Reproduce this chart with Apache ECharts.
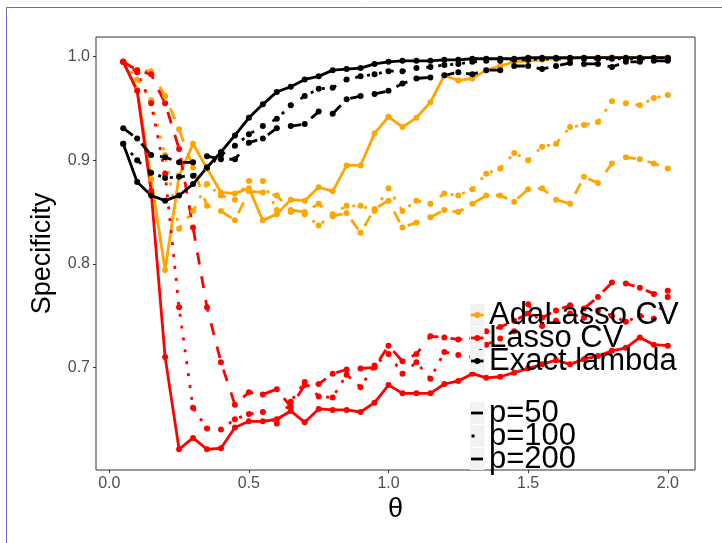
<!DOCTYPE html>
<html>
<head>
<meta charset="utf-8">
<script src="https://cdn.jsdelivr.net/npm/echarts@6/dist/echarts.min.js"></script>
<style>
  html, body { margin: 0; padding: 0; background: #ffffff; }
  #chart { width: 722px; height: 543px; }
</style>
</head>
<body>
<div id="chart"></div>
<script>
// theta grid
const theta = [0.05,0.10,0.15,0.20,0.25,0.30,0.35,0.40,0.45,0.50,
               0.55,0.60,0.65,0.70,0.75,0.80,0.85,0.90,0.95,1.00,
               1.05,1.10,1.15,1.20,1.25,1.30,1.35,1.40,1.45,1.50,
               1.55,1.60,1.65,1.70,1.75,1.80,1.85,1.90,1.95,2.00];

// AdaLasso CV specificity
const adaP50  = [0.995,0.968,0.882,0.794,0.885,0.916,0.892,0.869,0.868,0.873,
                 0.842,0.848,0.862,0.861,0.874,0.870,0.895,0.895,0.926,0.942,
                 0.932,0.941,0.956,0.982,0.977,0.979,0.987,0.991,0.995,0.996,
                 0.997,0.998,0.998,0.999,0.999,0.999,0.999,0.999,0.999,0.999];
const adaP100 = [0.995,0.978,0.958,0.905,0.834,0.851,0.877,0.866,0.862,0.880,
                 0.880,0.852,0.850,0.848,0.837,0.848,0.856,0.856,0.851,0.873,
                 0.851,0.861,0.858,0.868,0.866,0.872,0.887,0.892,0.907,0.900,
                 0.913,0.916,0.932,0.934,0.937,0.957,0.955,0.953,0.960,0.963];
const adaP200 = [0.995,0.987,0.986,0.962,0.930,0.893,0.856,0.851,0.842,0.870,
                 0.869,0.866,0.852,0.850,0.858,0.846,0.849,0.830,0.853,0.861,
                 0.835,0.840,0.845,0.852,0.850,0.858,0.866,0.866,0.860,0.872,
                 0.873,0.862,0.858,0.884,0.878,0.897,0.903,0.901,0.897,0.892];

// Lasso CV specificity
const lassoP50  = [0.995,0.967,0.870,0.710,0.621,0.632,0.621,0.622,0.642,0.648,
                   0.648,0.650,0.658,0.647,0.660,0.659,0.659,0.657,0.666,0.683,
                   0.675,0.675,0.675,0.684,0.687,0.694,0.690,0.691,0.695,0.699,
                   0.703,0.707,0.703,0.708,0.711,0.716,0.719,0.729,0.722,0.721];
const lassoP100 = [0.995,0.985,0.955,0.887,0.758,0.661,0.641,0.640,0.650,0.655,
                   0.657,0.646,0.667,0.686,0.672,0.671,0.693,0.681,0.702,0.713,
                   0.694,0.705,0.689,0.715,0.712,0.710,0.722,0.728,0.735,0.761,
                   0.740,0.745,0.752,0.748,0.755,0.750,0.744,0.750,0.747,0.768];
const lassoP200 = [0.995,0.987,0.983,0.955,0.911,0.835,0.758,0.705,0.664,0.676,
                   0.674,0.679,0.662,0.683,0.684,0.694,0.698,0.699,0.700,0.721,
                   0.706,0.713,0.730,0.729,0.727,0.728,0.735,0.739,0.745,0.752,
                   0.748,0.755,0.760,0.757,0.768,0.782,0.781,0.777,0.771,0.774];

// Exact lambda specificity
const exactP50  = [0.916,0.879,0.866,0.861,0.866,0.877,0.893,0.908,0.924,0.941,
                   0.954,0.966,0.971,0.978,0.981,0.987,0.988,0.989,0.993,0.995,
                   0.996,0.996,0.996,0.997,0.997,0.998,0.998,0.998,0.998,0.999,
                   0.999,0.999,0.999,0.999,0.999,0.999,0.999,0.999,0.999,0.999];
const exactP100 = [0.916,0.900,0.888,0.883,0.884,0.885,0.893,0.905,0.914,0.925,
                   0.933,0.940,0.953,0.962,0.969,0.970,0.978,0.981,0.983,0.986,
                   0.986,0.989,0.990,0.992,0.993,0.995,0.996,0.996,0.997,0.997,
                   0.998,0.998,0.998,0.998,0.998,0.998,0.998,0.998,0.998,0.998];
const exactP200 = [0.931,0.921,0.905,0.903,0.898,0.898,0.904,0.901,0.901,0.917,
                   0.921,0.931,0.933,0.935,0.947,0.945,0.959,0.962,0.964,0.967,
                   0.974,0.979,0.980,0.982,0.985,0.983,0.987,0.987,0.991,0.991,
                   0.988,0.991,0.994,0.993,0.993,0.990,0.995,0.995,0.996,0.996];

// tick labels
const xTickLabels = [0, 0.5, 1.0, 1.5, 2.0];
const yTickLabels = [0.7, 0.8, 0.9, 1.0];

// legend entries
const methodLabels = ['AdaLasso CV', 'Lasso CV', 'Exact lambda'];
const pLabels = ['p=50', 'p=100', 'p=200'];

const FONT = '"Liberation Sans", Arial, Helvetica, sans-serif';
const methodColors = ['#FFA500', '#FF0000', '#000000'];
const LW = 2.8;
const pDash = ['solid', [3, 9], [12, 12]];

function lineSeries(name, values, color, dash) {
  return {
    type: 'line',
    name: name,
    data: theta.map((t, i) => [t, values[i]]),
    symbol: 'circle',
    symbolSize: 6,
    showAllSymbol: true,
    lineStyle: { color: color, width: LW, type: dash, cap: 'butt', join: 'round' },
    itemStyle: { color: color, borderWidth: 0 },
    emphasis: { disabled: true },
    silent: true,
    animation: false
  };
}

const groups = [
  [adaP50, adaP100, adaP200],
  [lassoP50, lassoP100, lassoP200],
  [exactP50, exactP100, exactP200]
];
const series = [];
groups.forEach((g, m) => {
  g.forEach((vals, p) => {
    series.push(lineSeries(methodLabels[m] + ' ' + pLabels[p], vals, methodColors[m], pDash[p]));
  });
});

// legend drawn as graphic items
const graphic = [];
// outer frame (top and left edges)
graphic.push({ type: 'line', z: 200, silent: true,
  shape: { x1: 6.5, y1: 7.5, x2: 722, y2: 7.5 }, style: { stroke: '#6a6ac8', lineWidth: 1 } });
graphic.push({ type: 'line', z: 200, silent: true,
  shape: { x1: 6.5, y1: 7.5, x2: 6.5, y2: 543 }, style: { stroke: '#6a6ac8', lineWidth: 1 } });

const keyX = 470, keyW = 14.5, keyH = 22, rowStep = 23;
const legend1Top = 304, legend2Top = 402;

methodLabels.forEach((lab, i) => {
  const top = legend1Top + i * rowStep;
  const cy = top + keyH / 2;
  graphic.push({ type: 'rect', z: 100, silent: true,
    shape: { x: keyX, y: top, width: keyW, height: keyH }, style: { fill: '#f2f2f2' } });
  graphic.push({ type: 'line', z: 101, silent: true,
    shape: { x1: keyX + 1, y1: cy, x2: keyX + keyW - 1, y2: cy },
    style: { stroke: methodColors[i], lineWidth: LW } });
  graphic.push({ type: 'circle', z: 101, silent: true,
    shape: { cx: keyX + keyW / 2, cy: cy, r: 3 }, style: { fill: methodColors[i] } });
  graphic.push({ type: 'text', z: 102, silent: true, x: 489, y: cy,
    style: { text: lab, font: '31px ' + FONT, fill: '#000000', verticalAlign: 'middle', align: 'left' } });
});

pLabels.forEach((lab, i) => {
  const top = legend2Top + i * rowStep;
  const cy = top + keyH / 2;
  graphic.push({ type: 'rect', z: 100, silent: true,
    shape: { x: keyX, y: top, width: keyW, height: keyH }, style: { fill: '#f2f2f2' } });
  if (i === 1) {
    graphic.push({ type: 'rect', z: 101, silent: true,
      shape: { x: keyX + 1.5, y: cy - 1.5, width: 3, height: 3 }, style: { fill: '#000000' } });
  } else {
    graphic.push({ type: 'line', z: 101, silent: true,
      shape: { x1: keyX + 1, y1: cy, x2: keyX + keyW - 1.5, y2: cy },
      style: { stroke: '#000000', lineWidth: LW } });
  }
  graphic.push({ type: 'text', z: 102, silent: true, x: 489, y: cy,
    style: { text: lab, font: '31px ' + FONT, fill: '#000000', verticalAlign: 'middle', align: 'left' } });
});

const chart = echarts.init(document.getElementById('chart'), null, { renderer: 'canvas' });
chart.setOption({
  animation: false,
  backgroundColor: '#ffffff',
  textStyle: { fontFamily: FONT },
  grid: {
    left: 96, top: 37, width: 599, height: 433,
    show: true, borderColor: '#333333', borderWidth: 1, backgroundColor: '#ffffff'
  },
  xAxis: {
    type: 'value',
    min: -0.0475, max: 2.0975,
    name: 'θ',
    nameLocation: 'middle',
    nameGap: 26,
    nameMoveOverlap: false,
    nameTextStyle: { fontSize: 27, color: '#000000', fontFamily: FONT },
    axisLine: { show: false, onZero: false },
    axisTick: { show: true, inside: false, length: 3, customValues: xTickLabels, lineStyle: { color: '#333333', width: 1 } },
    axisLabel: {
      customValues: xTickLabels, margin: 6, fontSize: 16, color: '#4d4d4d', fontFamily: FONT,
      formatter: v => v.toFixed(1)
    },
    splitLine: { show: false }
  },
  yAxis: {
    type: 'value',
    min: 0.601, max: 1.019,
    name: 'Specificity',
    nameLocation: 'middle',
    nameGap: 40,
    nameRotate: 90,
    nameMoveOverlap: false,
    nameTextStyle: { fontSize: 27, color: '#000000', fontFamily: FONT },
    axisLine: { show: false, onZero: false },
    axisTick: { show: true, inside: false, length: 3, customValues: yTickLabels, lineStyle: { color: '#333333', width: 1 } },
    axisLabel: {
      customValues: yTickLabels, margin: 6, fontSize: 16, color: '#4d4d4d', fontFamily: FONT,
      formatter: v => v.toFixed(1)
    },
    splitLine: { show: false }
  },
  series: series,
  graphic: graphic
});
</script>
</body>
</html>
